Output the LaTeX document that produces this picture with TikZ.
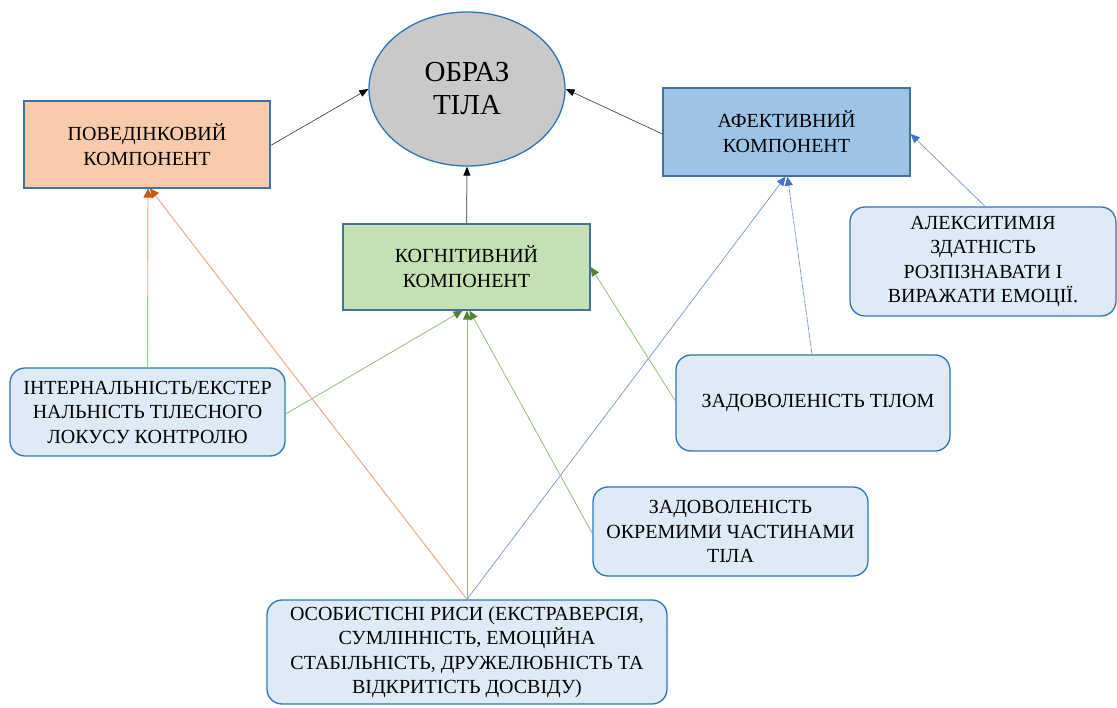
\documentclass[tikz,border=0pt]{standalone}
\usepackage{fontspec}
\setmainfont{Liberation Serif}
\usetikzlibrary{arrows.meta,calc,shapes.geometric}
\definecolor{bordblue}{HTML}{41719C}
\definecolor{roundblue}{HTML}{2E75B6}
\definecolor{behfill}{HTML}{F8CBAD}
\definecolor{cogfill}{HTML}{C5E0B4}
\definecolor{afffill}{HTML}{9DC3E6}
\definecolor{lightfill}{HTML}{DEEBF7}
\definecolor{ellfill}{HTML}{C9C9C9}
\definecolor{orline}{HTML}{EDA27A}
\definecolor{ortip}{HTML}{C55A11}
\definecolor{grline}{HTML}{92BE78}
\definecolor{grtip}{HTML}{548235}
\definecolor{blline}{HTML}{7F9FD8}
\definecolor{bltip}{HTML}{4472C4}
\tikzset{
  comp/.style={draw=bordblue, line width=1.3pt, minimum width=246pt, minimum height=87pt, inner sep=0pt, align=center, font=\fontsize{20}{25}\selectfont},
  factor/.style={draw=roundblue, line width=1.3pt, fill=lightfill, rounded corners=15pt, inner sep=0pt, align=center, font=\fontsize{20}{24.5}\selectfont},
  blackarr/.style={draw=black!80, line width=0.6pt, -{Triangle[length=9pt,width=7pt,color=black,fill=black]}},
  orarr/.style={draw=orline, line width=0.9pt, -{Triangle[length=9pt,width=9pt,color=ortip,fill=ortip]}},
  grarr/.style={draw=grline, line width=0.8pt, -{Triangle[length=9pt,width=8pt,color=grtip,fill=grtip]}},
  blarr/.style={draw=blline, line width=0.8pt, -{Triangle[length=9pt,width=8pt,color=bltip,fill=bltip]}},
}
\begin{document}
\begin{tikzpicture}[x=1pt,y=-1pt]
\useasboundingbox (0,0) rectangle (1117,708);
\node[ellipse, draw=roundblue, line width=1.3pt, fill=ellfill, minimum width=196pt, minimum height=154pt, inner sep=0pt, align=center, font=\fontsize{29}{33}\selectfont] (ell) at (467,89) {ОБРАЗ\\ТІЛА};
\node[comp, fill=behfill] (beh) at (147,144.5) {ПОВЕДІНКОВИЙ\\КОМПОНЕНТ};
\node[comp, fill=cogfill, minimum width=247pt, minimum height=86pt] (cog) at (466.5,267) {КОГНІТИВНИЙ\\КОМПОНЕНТ};
\node[comp, fill=afffill, minimum width=247pt, minimum height=88pt] (aff) at (786.5,132) {АФЕКТИВНИЙ\\КОМПОНЕНТ};
\node[factor, minimum width=266pt, minimum height=109pt] (alex) at (983,261.5) {АЛЕКСИТИМІЯ\\ЗДАТНІСТЬ\\РОЗПІЗНАВАТИ І\\ВИРАЖАТИ ЕМОЦІЇ.};
\node[factor, minimum width=275pt, minimum height=88pt] (intern) at (147.5,412) {ІНТЕРНАЛЬНІСТЬ/ЕКСТЕР\\НАЛЬНІСТЬ ТІЛЕСНОГО\\ЛОКУСУ КОНТРОЛЮ};
\node[factor, minimum width=274pt, minimum height=96pt] (satbody) at (813,403) {\hspace*{10pt}ЗАДОВОЛЕНІСТЬ ТІЛОМ};
\node[factor, minimum width=275pt, minimum height=89pt] (satparts) at (730.5,531.5) {ЗАДОВОЛЕНІСТЬ\\ОКРЕМИМИ ЧАСТИНАМИ\\ТІЛА};
\node[factor, minimum width=400pt, minimum height=104pt] (pers) at (467,652) {ОСОБИСТІСНІ РИСИ (ЕКСТРАВЕРСІЯ,\\СУМЛІННІСТЬ, ЕМОЦІЙНА\\СТАБІЛЬНІСТЬ, ДРУЖЕЛЮБНІСТЬ ТА\\ВІДКРИТІСТЬ ДОСВІДУ)};
% main arrows
\draw[blackarr] ([yshift=-1pt]beh.east) -- (ell.west);
\draw[blackarr] ([yshift=-2pt]aff.west) -- (ell.east);
\draw[blackarr, draw=black!55, line width=1pt] (cog.north) -- (ell.south);
% behavioural
\draw[orarr] ([xshift=0pt]intern.north) -- ([xshift=1pt]beh.south);
\draw[orarr] (pers.north) -- ([xshift=3pt]beh.south);
% cognitive
\draw[grarr] ([yshift=-2pt]intern.east) -- ([xshift=-4pt]cog.south);
\draw[grarr] (pers.north) -- ([xshift=0.5pt]cog.south);
\draw[grarr] ([yshift=-2pt]satparts.west) -- ([xshift=3pt]cog.south);
\draw[grarr] ([yshift=2pt]satbody.west) -- (cog.east);
% affective
\draw[blarr] (pers.north) -- ([xshift=-1pt]aff.south);
\draw[blarr, dash pattern=on 7pt off 1pt] ([xshift=-1pt]satbody.north) -- ([xshift=1pt]aff.south);
\draw[blarr] ([xshift=2pt]alex.north) -- ([yshift=-2pt]aff.east);
\end{tikzpicture}
\end{document}
